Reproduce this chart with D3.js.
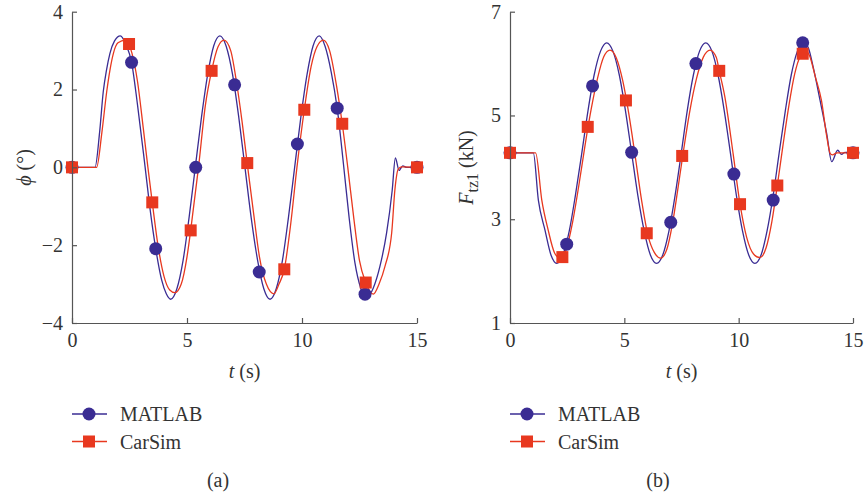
<!DOCTYPE html>
<html>
<head>
<meta charset="utf-8">
<script src="https://cdn.jsdelivr.net/npm/d3@7"></script>
<style>
  body { margin: 0; background: #fff; }
  svg { display: block; font-family: "Liberation Serif", "DejaVu Serif", serif; }
</style>
</head>
<body>
<div class="container"></div>
<script>
// roll angle phi (deg) vs t (s)
const phiMatlab = [
  [0, 0], [0.5, 0], [1.0, 0], [1.2, 0.9], [1.36, 1.95], [1.5, 2.5], [1.65, 2.93], [1.85, 3.25], [2.1, 3.38],
  [2.35, 3.15], [2.59, 2.70], [2.85, 1.6], [3.18, 0], [3.4, -1.1], [3.64, -2.09], [3.9, -2.9], [4.1, -3.25], [4.29, -3.39],
  [4.56, -3.12], [4.83, -2.39], [5.09, -1.29], [5.36, 0], [5.63, 1.29], [5.9, 2.39], [6.16, 3.12], [6.43, 3.38],
  [6.7, 3.12], [6.98, 2.39], [7.25, 1.29], [7.52, 0], [7.79, -1.29], [8.07, -2.39], [8.34, -3.12], [8.61, -3.39],
  [8.88, -3.12], [9.15, -2.39], [9.41, -1.29], [9.68, 0], [9.95, 1.29], [10.22, 2.39], [10.48, 3.12], [10.75, 3.38],
  [11.0, 3.12], [11.27, 2.45], [11.53, 1.52], [11.8, 0.1], [12.05, -1.3], [12.3, -2.45], [12.55, -3.1], [12.8, -3.36],
  [13.1, -3.1], [13.39, -2.54], [13.68, -1.68], [13.92, -0.6], [14.06, 0.24], [14.22, -0.08], [14.38, 0.04], [14.55, 0], [15, 0]
];
const phiCarsim = [
  [0, 0], [0.5, 0], [1.07, 0], [1.3, 0.9], [1.51, 1.95], [1.65, 2.5], [1.8, 2.93], [2.0, 3.2], [2.32, 3.27],
  [2.6, 2.95], [2.85, 2.2], [3.1, 1.0], [3.3, 0], [3.49, -0.9], [3.75, -2.05], [4.0, -2.8], [4.25, -3.15], [4.48, -3.22],
  [4.75, -3.0], [5.0, -2.3], [5.16, -1.62], [5.5, 0], [5.8, 1.6], [6.07, 2.48], [6.35, 3.1], [6.61, 3.27],
  [6.9, 3.0], [7.15, 2.2], [7.4, 1.15], [7.64, 0], [7.9, -1.2], [8.15, -2.3], [8.45, -3.0], [8.78, -3.25],
  [9.0, -3.0], [9.23, -2.62], [9.5, -1.5], [9.78, 0], [10.1, 1.48], [10.4, 2.6], [10.65, 3.1], [10.93, 3.27],
  [11.2, 3.0], [11.5, 2.1], [11.75, 1.12], [11.99, 0], [12.25, -1.3], [12.5, -2.4], [12.77, -2.96], [13.1, -3.26],
  [13.35, -3.0], [13.61, -2.54], [13.9, -1.68], [14.04, -0.57], [14.19, -0.04], [14.34, 0.01], [15, 0]
];
const phiMatlabMarks = [[0, 0], [2.59, 2.70], [3.64, -2.09], [5.38, 0], [7.07, 2.12], [8.14, -2.69], [9.80, 0.60], [11.53, 1.52], [12.74, -3.26], [15, 0]];
const phiCarsimMarks = [[0, 0], [2.48, 3.17], [3.49, -0.90], [5.16, -1.62], [6.07, 2.48], [7.62, 0.11], [9.23, -2.62], [10.10, 1.48], [11.75, 1.12], [12.77, -2.96], [15, 0]];

// tyre vertical load Ftz1 (kN) vs t (s)
const fMatlab = [
  [0, 4.28], [0.5, 4.28], [1.02, 4.28], [1.24, 3.37], [1.53, 2.79], [1.8, 2.3], [2.04, 2.15],
  [2.31, 2.31], [2.59, 2.77], [2.86, 3.46], [3.14, 4.275], [3.41, 5.09], [3.68, 5.78], [3.96, 6.24], [4.23, 6.40],
  [4.5, 6.24], [4.78, 5.78], [5.05, 5.09], [5.32, 4.275], [5.59, 3.46], [5.87, 2.77], [6.14, 2.31], [6.41, 2.15],
  [6.68, 2.31], [6.95, 2.77], [7.22, 3.46], [7.49, 4.275], [7.75, 5.09], [8.02, 5.78], [8.29, 6.24], [8.56, 6.40],
  [8.83, 6.24], [9.1, 5.78], [9.37, 5.09], [9.64, 4.275], [9.9, 3.46], [10.17, 2.77], [10.44, 2.31], [10.71, 2.15],
  [10.98, 2.31], [11.24, 2.77], [11.51, 3.46], [11.77, 4.275], [12.04, 5.09], [12.3, 5.78], [12.57, 6.24], [12.83, 6.42],
  [13.05, 6.3], [13.26, 5.93], [13.56, 5.29], [13.85, 4.65], [14.07, 4.11], [14.33, 4.33], [14.5, 4.25], [14.65, 4.29], [15, 4.28]
];
const fCarsim = [
  [0, 4.28], [0.5, 4.28], [1.12, 4.28], [1.39, 3.37], [1.67, 2.79], [1.95, 2.35], [2.19, 2.25],
  [2.46, 2.42], [2.74, 2.95], [3.01, 3.65], [3.28, 4.42], [3.55, 5.12], [3.83, 5.72], [4.1, 6.13], [4.37, 6.26],
  [4.65, 6.11], [4.93, 5.67], [5.2, 5.02], [5.48, 4.2], [5.76, 3.35], [6.04, 2.68], [6.31, 2.36], [6.59, 2.25],
  [6.86, 2.42], [7.1, 2.9], [7.33, 3.55], [7.58, 4.3], [7.85, 5.05], [8.15, 5.7], [8.45, 6.12], [8.75, 6.26],
  [9.02, 6.12], [9.15, 5.86], [9.4, 5.35], [9.76, 4.255], [10.06, 3.29], [10.35, 2.65], [10.65, 2.33], [10.93, 2.26],
  [11.2, 2.45], [11.45, 2.95], [11.69, 3.65], [11.93, 4.4], [12.2, 5.2], [12.45, 5.8], [12.7, 6.15], [12.9, 6.26],
  [13.1, 6.15], [13.35, 5.75], [13.62, 5.29], [13.85, 4.6], [14.0, 4.27], [14.1, 4.24], [14.3, 4.28], [15, 4.28]
];
const fMatlabMarks = [[0, 4.28], [2.48, 2.52], [3.61, 5.57], [5.32, 4.29], [7.03, 2.94], [8.13, 6.0], [9.79, 3.87], [11.51, 3.37], [12.8, 6.40], [15, 4.28]];
const fCarsimMarks = [[0, 4.28], [2.29, 2.27], [3.40, 4.78], [5.07, 5.29], [5.98, 2.73], [7.53, 4.22], [9.15, 5.86], [10.06, 3.29], [11.69, 3.65], [12.8, 6.19], [15, 4.28]];

const xTicks = [0, 5, 10, 15];
const phiTicks = [-4, -2, 0, 2, 4];
const fTicks = [1, 3, 5, 7];
const seriesNames = ["MATLAB", "CarSim"];

const blue = "#3a2c93";
const red = "#e8381f";
const axisColor = "#555";

const width = 864, height = 498;

const svg = d3.select(".container").append("svg")
  .attr("width", width)
  .attr("height", height)
  .attr("viewBox", [0, 0, width, height]);

function panel(opts) {
  const x = d3.scaleLinear().domain([0, 15]).range([opts.left, opts.right]);
  const y = d3.scaleLinear().domain(opts.yDomain).range([323, 11.7]);
  const g = svg.append("g");

  const line = d3.line()
    .x(d => x(d[0]))
    .y(d => y(d[1]))
    .curve(d3.curveMonotoneX);

  g.append("path").datum(opts.matlab)
    .attr("fill", "none").attr("stroke", blue).attr("stroke-width", 1.3)
    .attr("d", line);
  g.append("path").datum(opts.carsim)
    .attr("fill", "none").attr("stroke", red).attr("stroke-width", 1.3)
    .attr("d", line);

  g.append("g").selectAll("circle")
    .data(opts.matlabMarks)
    .join("circle")
    .attr("cx", d => x(d[0]))
    .attr("cy", d => y(d[1]))
    .attr("r", 6.5)
    .attr("fill", blue);

  g.append("g").selectAll("rect")
    .data(opts.carsimMarks)
    .join("rect")
    .attr("x", d => x(d[0]) - 6)
    .attr("y", d => y(d[1]) - 6)
    .attr("width", 12)
    .attr("height", 12)
    .attr("fill", red);

  const gx = g.append("g")
    .attr("transform", `translate(0,${y.range()[0]})`)
    .call(d3.axisBottom(x).tickValues(xTicks).tickSizeInner(-5).tickSizeOuter(0).tickPadding(10));
  const gy = g.append("g")
    .attr("transform", `translate(${opts.left},0)`)
    .call(d3.axisLeft(y).tickValues(opts.yTicks).tickSizeInner(-5).tickSizeOuter(0).tickPadding(9)
      .tickFormat(d => d < 0 ? "\u2212" + Math.abs(d) : d));

  [gx, gy].forEach(a => {
    a.select(".domain").attr("stroke", axisColor).attr("stroke-width", 1.2);
    a.selectAll(".tick line").attr("stroke", axisColor).attr("stroke-width", 1.2);
    a.selectAll(".tick text")
      .attr("fill", "#333")
      .style("font-family", "Liberation Serif, serif")
      .style("font-size", "20px");
  });

  // x label
  const xl = g.append("text")
    .attr("x", (opts.left + opts.right) / 2)
    .attr("y", 378)
    .attr("text-anchor", "middle")
    .attr("fill", "#333")
    .style("font-size", "20px");
  xl.append("tspan").attr("font-style", "italic").text("t");
  xl.append("tspan").text(" (s)");

  // y label
  const yl = g.append("text")
    .attr("transform", `translate(${opts.yLabelX},167.5) rotate(-90)`)
    .attr("text-anchor", "middle")
    .attr("fill", "#333")
    .style("font-size", "20px");
  opts.yLabel(yl);

  // legend
  const lg = g.append("g");
  [0, 1].forEach(i => {
    const ly = 414 + i * 27.5;
    const lx = opts.left;
    lg.append("line")
      .attr("x1", lx).attr("x2", lx + 35)
      .attr("y1", ly).attr("y2", ly)
      .attr("stroke", i === 0 ? blue : red)
      .attr("stroke-width", 1.3);
    if (i === 0) {
      lg.append("circle").attr("cx", lx + 17).attr("cy", ly).attr("r", 6.5).attr("fill", blue);
    } else {
      lg.append("rect").attr("x", lx + 11).attr("y", ly - 6).attr("width", 12).attr("height", 12).attr("fill", red);
    }
    lg.append("text")
      .attr("x", lx + 48)
      .attr("y", ly + 7)
      .attr("fill", "#333")
      .style("font-size", "20px")
      .text(seriesNames[i]);
  });

  g.append("text")
    .attr("x", opts.captionX)
    .attr("y", 487)
    .attr("text-anchor", "middle")
    .attr("fill", "#333")
    .style("font-size", "20px")
    .text(opts.caption);
}

panel({
  left: 72, right: 417,
  yDomain: [-4, 4], yTicks: phiTicks,
  matlab: phiMatlab, carsim: phiCarsim,
  matlabMarks: phiMatlabMarks, carsimMarks: phiCarsimMarks,
  yLabelX: 31,
  yLabel: t => {
    t.append("tspan").attr("font-style", "italic").text("\u03d5");
    t.append("tspan").text(" (\u00b0)");
  },
  caption: "(a)", captionX: 218
});

panel({
  left: 510, right: 853,
  yDomain: [1, 7], yTicks: fTicks,
  matlab: fMatlab, carsim: fCarsim,
  matlabMarks: fMatlabMarks, carsimMarks: fCarsimMarks,
  yLabelX: 473,
  yLabel: t => {
    t.append("tspan").attr("font-style", "italic").text("F");
    t.append("tspan").attr("dy", 5).style("font-size", "16px").text("tz1");
    t.append("tspan").attr("dy", -5).text(" (kN)");
  },
  caption: "(b)", captionX: 658
});
</script>
</body>
</html>
